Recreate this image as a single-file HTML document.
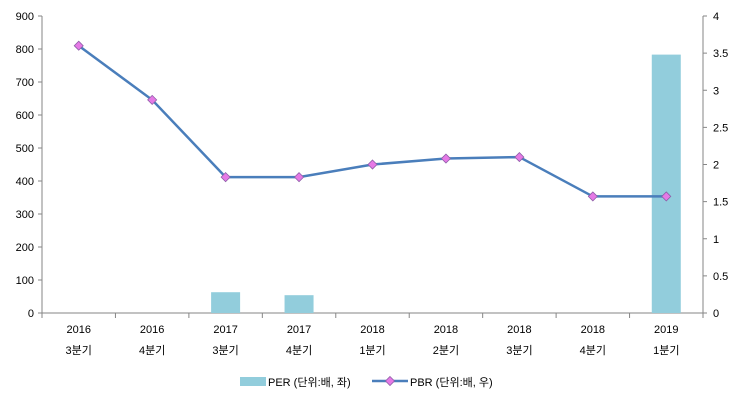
<!DOCTYPE html>
<html><head><meta charset="utf-8"><style>
body{margin:0;background:#fff;}
svg text{font-family:"Liberation Sans","Noto Sans CJK KR",sans-serif;font-size:11px;fill:#000;}
</style></head><body>
<svg width="743" height="403" xmlns="http://www.w3.org/2000/svg">
<g id="g"></g>
</svg>
<script>
const years=["2016","2016","2017","2017","2018","2018","2018","2018","2019"];
const quarters=["3분기","4분기","3분기","4분기","1분기","2분기","3분기","4분기","1분기"];
const per=[0,0,63,54,0,0,0,0,783];
const pbr=[3.6,2.87,1.83,1.83,2.0,2.08,2.1,1.57,1.57];
const leftTicks=[0,100,200,300,400,500,600,700,800,900];
const rightTicks=["0","0.5","1","1.5","2","2.5","3","3.5","4"];
const NS="http://www.w3.org/2000/svg";
const g=document.getElementById('g');
const L=42,R=703,T=16,B=313;
const bw=(R-L)/years.length;
const xc=i=>L+bw*(i+0.5);
const yl=v=>B-(v/900)*(B-T);
const yr=v=>B-(v/4)*(B-T);
function mk(t,a,p){const e=document.createElementNS(NS,t);for(const k in a)e.setAttribute(k,a[k]);(p||g).appendChild(e);return e;}
// axes
let e=mk('line',{x1:L,y1:T,x2:L,y2:B,stroke:'#868686'});


e=mk('line',{x1:R,y1:T,x2:R,y2:B,stroke:'#868686'});


e=mk('line',{x1:L,y1:B,x2:R,y2:B,stroke:'#868686'});


leftTicks.forEach(v=>{const y=yl(v);mk('line',{x1:L-4,y1:y,x2:L,y2:y,stroke:'#868686'});
 const t=mk('text',{x:L-8,y:y+4,'text-anchor':'end'});t.textContent=v;
 
 });
rightTicks.forEach(s=>{const y=yr(parseFloat(s));mk('line',{x1:R,y1:y,x2:R+4,y2:y,stroke:'#868686'});
 const t=mk('text',{x:R+10,y:y+4});t.textContent=s;
 
 });
for(let i=0;i<=years.length;i++){const x=L+bw*i;mk('line',{x1:x,y1:B,x2:x,y2:B+5,stroke:'#868686'});}
years.forEach((y,i)=>{let t=mk('text',{x:xc(i),y:333,'text-anchor':'middle'});t.textContent=y;
 
 
 t=mk('text',{x:xc(i),y:354,'text-anchor':'middle'});t.textContent=quarters[i];
 
 });
// bars
per.forEach((v,i)=>{if(v<=0)return;const b=mk('rect',{x:xc(i)-14.5,y:yl(v),width:29,height:B-yl(v),fill:'#92cddc'});
 
 });
// line
const pl=mk('polyline',{points:pbr.map((v,i)=>xc(i)+','+yr(v)).join(' '),fill:'none',stroke:'#4a7ebb','stroke-width':2.5});


pbr.forEach((v,i)=>{const x=xc(i),y=yr(v);const p=mk('polygon',{points:`${x},${y-4.5} ${x+4.5},${y} ${x},${y+4.5} ${x-4.5},${y}`,fill:'#e679e6',stroke:'#8e5fa8','stroke-width':0.8});
 
 });
// legend
const lg=mk('g',{});


mk('rect',{x:240,y:377,width:26,height:9,fill:'#92cddc'},lg);
let t=mk('text',{x:268,y:386},lg);t.textContent='PER (단위:배, 좌)';
mk('line',{x1:372,y1:381,x2:408,y2:381,stroke:'#4a7ebb','stroke-width':2.5},lg);
mk('polygon',{points:'390,376.5 394.5,381 390,385.5 385.5,381',fill:'#e679e6',stroke:'#8e5fa8','stroke-width':0.8},lg);
t=mk('text',{x:410,y:386},lg);t.textContent='PBR (단위:배, 우)';
</script>
</body></html>
